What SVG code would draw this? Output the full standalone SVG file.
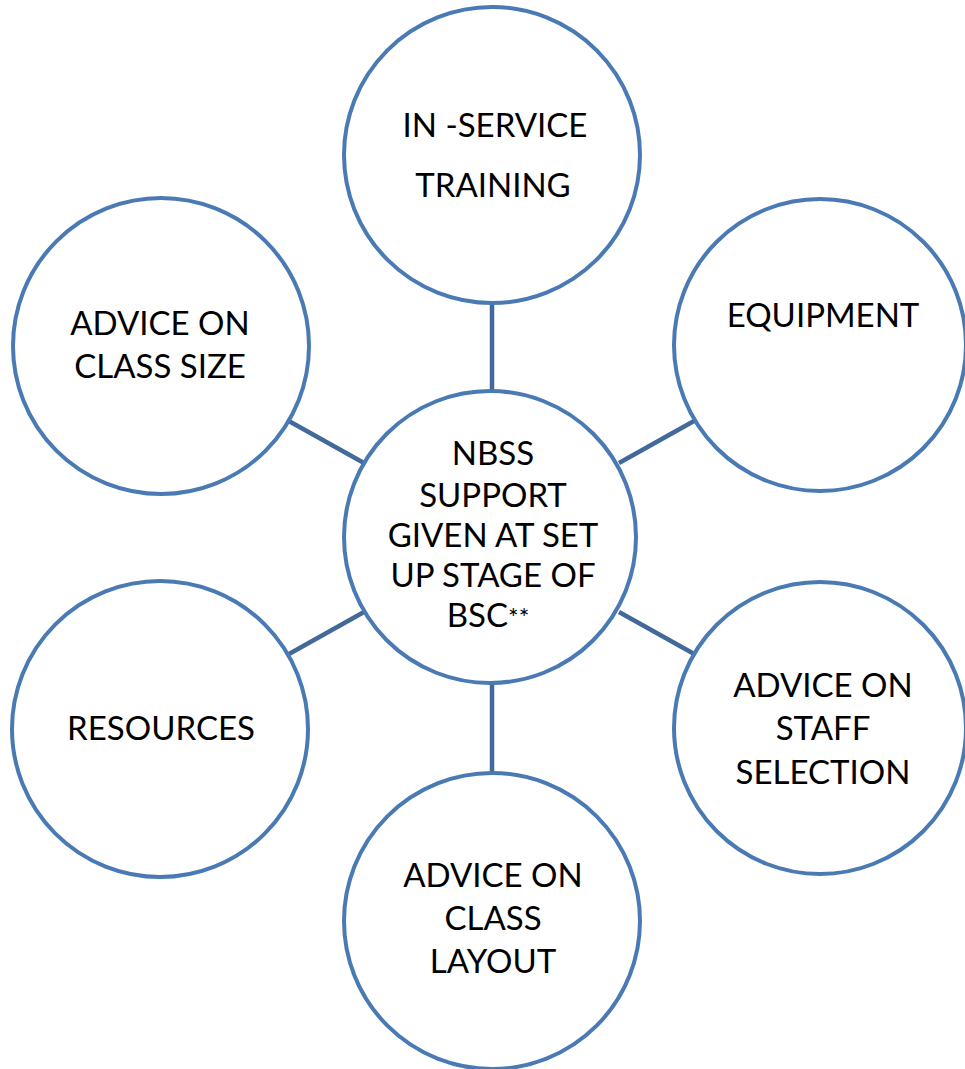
<svg xmlns="http://www.w3.org/2000/svg" width="965" height="1069" viewBox="0 0 965 1069">
<style>
.node circle{fill:#ffffff;stroke:#4a7ab3;stroke-width:4}
.node text{font-family:Lato,"Open Sans","Liberation Sans",sans-serif;font-size:33px;fill:#000000;text-anchor:middle}
#connectors line{stroke:#43699a;stroke-width:4.5}
</style>
<rect width="965" height="1069" fill="#ffffff"/>
<g id="connectors">
<line x1="492" y1="301" x2="492" y2="393"/>
<line x1="492" y1="681" x2="492" y2="775"/>
<line x1="287" y1="420" x2="364" y2="463"/>
<line x1="694" y1="421" x2="619" y2="463"/>
<line x1="364" y1="612" x2="289" y2="654"/>
<line x1="619" y1="612" x2="696" y2="655"/>
</g>
<g id="node-center" class="node">
<circle cx="490" cy="537" r="146"/>
<text x="493" y="465">NBSS</text>
<text x="493" y="507">SUPPORT</text>
<text x="493" y="547">GIVEN AT SET</text>
<text x="493" y="587">UP STAGE OF</text>
<text x="488" y="627">BSC<tspan font-size="25">**</tspan></text>
</g>
<g id="node-inservice" class="node">
<circle cx="492" cy="155" r="148"/>
<text x="495" y="137">IN -SERVICE</text>
<text x="493" y="197">TRAINING</text>
</g>
<g id="node-equipment" class="node">
<circle cx="820" cy="345" r="146"/>
<text x="823" y="327">EQUIPMENT</text>
</g>
<g id="node-classsize" class="node">
<circle cx="161" cy="346" r="148"/>
<text x="160" y="335">ADVICE ON</text>
<text x="160" y="378">CLASS SIZE</text>
</g>
<g id="node-resources" class="node">
<circle cx="160" cy="729" r="148"/>
<text x="161" y="740">RESOURCES</text>
</g>
<g id="node-staff" class="node">
<circle cx="820" cy="728" r="146"/>
<text x="823" y="697">ADVICE ON</text>
<text x="823" y="740">STAFF</text>
<text x="823" y="784">SELECTION</text>
</g>
<g id="node-layout" class="node">
<circle cx="492" cy="921" r="148"/>
<text x="493" y="887">ADVICE ON</text>
<text x="493" y="930">CLASS</text>
<text x="493" y="973">LAYOUT</text>
</g>
</svg>
